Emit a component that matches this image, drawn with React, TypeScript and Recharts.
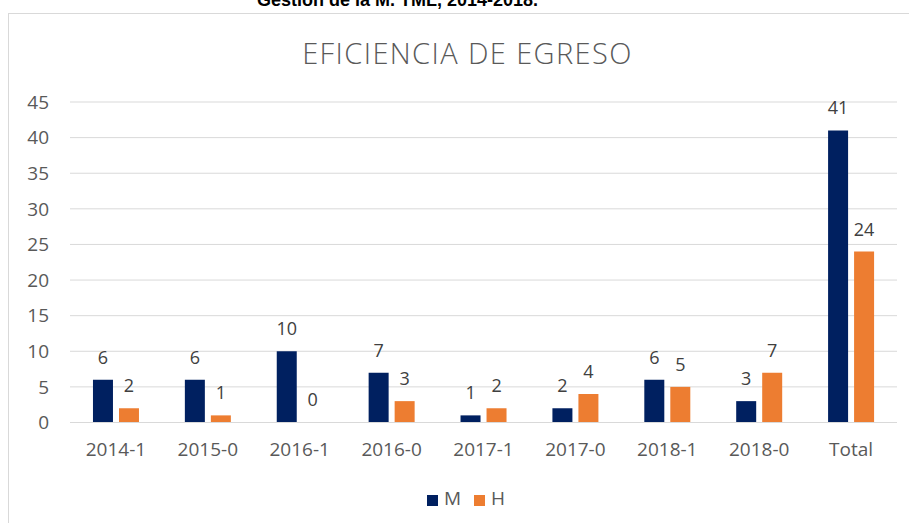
import React from 'react';
import {
  BarChart,
  Bar,
  XAxis,
  YAxis,
  CartesianGrid,
  Legend,
  LabelList,
} from 'recharts';

// Eficiencia de egreso por generación (M / H)
const categories = ['2014-1', '2015-0', '2016-1', '2016-0', '2017-1', '2017-0', '2018-1', '2018-0', 'Total'];
const mujeres = [6, 6, 10, 7, 1, 2, 6, 3, 41];
const hombres = [2, 1, 0, 3, 2, 4, 5, 7, 24];
const yTicks = [0, 5, 10, 15, 20, 25, 30, 35, 40, 45];
const seriesOrder = ['M', 'H'];

const COLORS = {
  m: '#002060',
  h: '#ED7D31',
  grid: '#D9D9D9',
  text: '#595959',
  label: '#404040',
};

const FONT = '"Open Sans", "Liberation Sans", sans-serif';

const data = categories.map((cat, i) => ({
  cat,
  M: mujeres[i],
  H: hombres[i],
}));

export default function App() {
  return (
    <div
      style={{
        position: 'absolute',
        left: 0,
        top: 0,
        width: 909,
        height: 523,
        overflow: 'hidden',
        background: '#fff',
        fontFamily: FONT,
      }}
    >
      {/* caption cut off at the top of the picture, as in the source */}
      <div
        style={{
          position: 'absolute',
          left: 257,
          top: -9,
          fontFamily: '"Liberation Sans", Arial, sans-serif',
          fontWeight: 700,
          fontSize: 18,
          lineHeight: 1,
          color: '#000',
          whiteSpace: 'nowrap',
        }}
      >
        Gestión de la M. TML, 2014-2018.
      </div>

      {/* chart frame */}
      <div
        style={{
          position: 'absolute',
          left: 8,
          top: 13,
          width: 910,
          height: 530,
          border: `1px solid ${COLORS.grid}`,
          boxSizing: 'border-box',
        }}
      />

      <div
        style={{
          position: 'absolute',
          left: 0,
          top: 37.5,
          width: 935,
          textAlign: 'center',
          fontSize: 29,
          fontWeight: 300,
          letterSpacing: 1.4,
          lineHeight: 1,
          color: COLORS.text,
          whiteSpace: 'nowrap',
        }}
      >
        EFICIENCIA DE EGRESO
      </div>

      <div style={{ position: 'absolute', left: 0, top: 0 }}>
        <BarChart
          width={909}
          height={523}
          data={data}
          margin={{ top: 102, right: 12, left: 0, bottom: 12 }}
          barCategoryGap="25%"
          barGap={6}
        >
          <CartesianGrid stroke={COLORS.grid} vertical={false} />
          <XAxis
            dataKey="cat"
            height={62.5}
            tickLine={false}
            tickSize={0}
            tickMargin={20}
            axisLine={{ stroke: COLORS.grid }}
            tick={{ fontSize: 19, fill: COLORS.text }}
            interval={0}
          />
          <YAxis
            width={70}
            domain={[0, 45]}
            ticks={yTicks}
            tickLine={false}
            tickSize={0}
            tickMargin={21}
            axisLine={false}
            tick={{ fontSize: 19, fill: COLORS.text }}
          />
          <Legend
            verticalAlign="bottom"
            align="center"
            iconType="square"
            iconSize={11}
            wrapperStyle={{ left: 24 }}
            itemSorter={(item: { value?: string }) => seriesOrder.indexOf(String(item.value))}
            formatter={(value: string) => (
              <span style={{ color: COLORS.text, fontSize: 19, marginLeft: 2, marginRight: 3 }}>{value}</span>
            )}
          />
          <Bar dataKey="M" name="M" fill={COLORS.m} isAnimationActive={false}>
            <LabelList dataKey="M" position="top" offset={16} fill={COLORS.label} fontSize={18} />
          </Bar>
          {/* minPointSize keeps the zero bar so its "0" label is still drawn */}
          <Bar dataKey="H" name="H" fill={COLORS.h} minPointSize={0.1} isAnimationActive={false}>
            <LabelList dataKey="H" position="top" offset={16} fill={COLORS.label} fontSize={18} />
          </Bar>
        </BarChart>
      </div>
    </div>
  );
}
